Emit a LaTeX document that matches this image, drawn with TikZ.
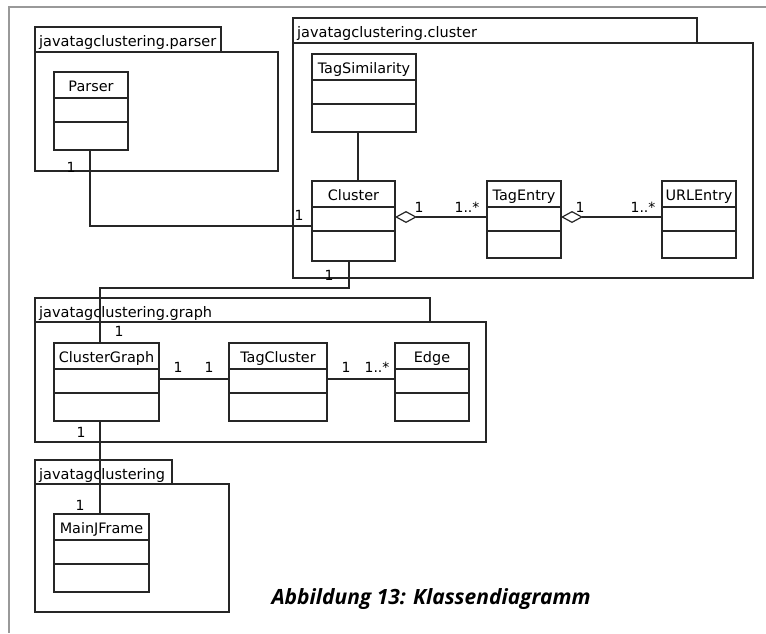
\documentclass[tikz,border=0pt]{standalone}
\usepackage{fontspec}
\setmainfont{DejaVu Sans}
\newfontfamily\captionfont{Open Sans}
\usetikzlibrary{arrows.meta}

% one unit = 1pt, y grows downwards
\tikzset{
  x=1pt, y=-1pt,
  umlline/.style={draw=black!85, line width=1.3pt},
  classbox/.style={umlline, rectangle, inner sep=0pt, outer sep=0pt, fill=white},
  classname/.style={font=\fontsize{14.4}{17}\selectfont, inner sep=0pt, anchor=base},
  pkgbox/.style={umlline, rectangle, inner sep=0pt, outer sep=0pt},
  pkgname/.style={font=\fontsize{14.5}{17}\selectfont, inner sep=0pt, anchor=base west},
  mult/.style={font=\fontsize{14}{17}\selectfont, inner sep=0pt},
  conn/.style={umlline, line join=miter},
  agg/.style={conn, {Diamond[open, length=22pt, width=12pt, line width=1.2pt]}-},
  frameline/.style={draw=black!40, line width=2pt}
}

% class box: name, x1, y1, x2, y2, title
\newcommand{\umlclass}[6]{%
  \pgfmathsetmacro{\clsW}{#4-#2}\pgfmathsetmacro{\clsH}{#5-#3}%
  \node[classbox, minimum width=\clsW pt, minimum height=\clsH pt, anchor=north west] (#1) at (#2,#3) {};
  \node[classname] at ([yshift=-19pt]#1.north) {#6};
  \draw[umlline] ([yshift=-26pt]#1.north west) -- ([yshift=-26pt]#1.north east);
  \draw[umlline] ([yshift=-50pt]#1.north west) -- ([yshift=-50pt]#1.north east);
}

% package: name, x1, y1 (tab top), tab right, tab bottom, body right, body bottom, title
\newcommand{\umlpackage}[8]{%
  \pgfmathsetmacro{\pkgTW}{#4-#2}\pgfmathsetmacro{\pkgTH}{#5-#3}%
  \pgfmathsetmacro{\pkgBW}{#6-#2}\pgfmathsetmacro{\pkgBH}{#7-#5}%
  \node[pkgbox, minimum width=\pkgTW pt, minimum height=\pkgTH pt, anchor=north west] (#1-tab) at (#2,#3) {};
  \node[pkgbox, minimum width=\pkgBW pt, minimum height=\pkgBH pt, anchor=north west] (#1) at (#2,#5) {};
  \node[pkgname] at ([xshift=4pt, yshift=-19pt]#1-tab.north west) {#8};
}

\begin{document}
\begin{tikzpicture}
\useasboundingbox (0,0) rectangle (766,633);

% page frame
\draw[frameline] (766,7) -- (9,7) -- (9,633);

% packages
\umlpackage{pkgparser}{35}{27}{221}{52}{278}{171}{javatagclustering.parser}
\umlpackage{pkgcluster}{293}{18}{697}{43}{753}{278}{javatagclustering.cluster}
\umlpackage{pkggraph}{35}{298}{430}{322}{486}{442}{javatagclustering.graph}
\umlpackage{pkgmain}{35}{460}{172}{484}{229}{612}{javatagclustering}

% classes
\umlclass{Parser}{54}{72}{128}{150}{Parser}
\umlclass{TagSimilarity}{312}{54}{416}{132}{TagSimilarity}
\umlclass{Cluster}{312}{181}{395}{261}{Cluster}
\umlclass{TagEntry}{487}{181}{561}{258}{TagEntry}
\umlclass{URLEntry}{662}{181}{736}{258}{URLEntry}
\umlclass{ClusterGraph}{54}{343}{159}{421}{ClusterGraph}
\umlclass{TagCluster}{229}{343}{327}{421}{TagCluster}
\umlclass{Edge}{395}{343}{469}{421}{Edge}
\umlclass{MainJFrame}{54}{514}{149}{592}{MainJFrame}

% associations
\draw[conn] ([xshift=-1pt]Parser.south) |- ([yshift=-5pt]Cluster.west);
\draw[conn] ([xshift=-6pt]TagSimilarity.south) -- ([xshift=-6pt]TagSimilarity.south |- Cluster.north);
\draw[agg] ([yshift=4pt]Cluster.east) -- ([yshift=4pt]Cluster.east -| TagEntry.west);
\draw[agg] ([yshift=2.5pt]TagEntry.east) -- ([yshift=2.5pt]TagEntry.east -| URLEntry.west);
\draw[conn] ([xshift=-4.5pt]Cluster.south) -- ++(0,27) -| ([xshift=-6.5pt]ClusterGraph.north);
\draw[conn] ([yshift=3pt]ClusterGraph.east) -- ([yshift=3pt]ClusterGraph.east -| TagCluster.west);
\draw[conn] ([yshift=3pt]TagCluster.east) -- ([yshift=3pt]TagCluster.east -| Edge.west);
\draw[conn] ([xshift=-6.5pt]ClusterGraph.south) -- ([xshift=-6.5pt]ClusterGraph.south |- MainJFrame.north);

% multiplicities
\node[mult] (m1) at (71,167) {1};
\node[mult] (m2) at (299,215) {1};
\node[mult] (m3) at (419,207) {1};
\node[mult] (m4) at (467,207) {1..*};
\node[mult] (m5) at (580,207) {1};
\node[mult] (m6) at (643,207) {1..*};
\node[mult] (m7) at (329,275) {1};
\node[mult] (m8) at (119,331) {1};
\node[mult] (m9) at (178,367) {1};
\node[mult] (m10) at (209,367) {1};
\node[mult] (m11) at (346,367) {1};
\node[mult] (m12) at (377,367) {1..*};
\node[mult] (m13) at (81,432) {1};
\node[mult] (m14) at (80,505) {1};

% caption
\node[font=\captionfont\bfseries\itshape\fontsize{21}{25}\selectfont, inner sep=0pt, anchor=base] (caption) at (431,604) {Abbildung 13: Klassendiagramm};
\end{tikzpicture}
\end{document}
